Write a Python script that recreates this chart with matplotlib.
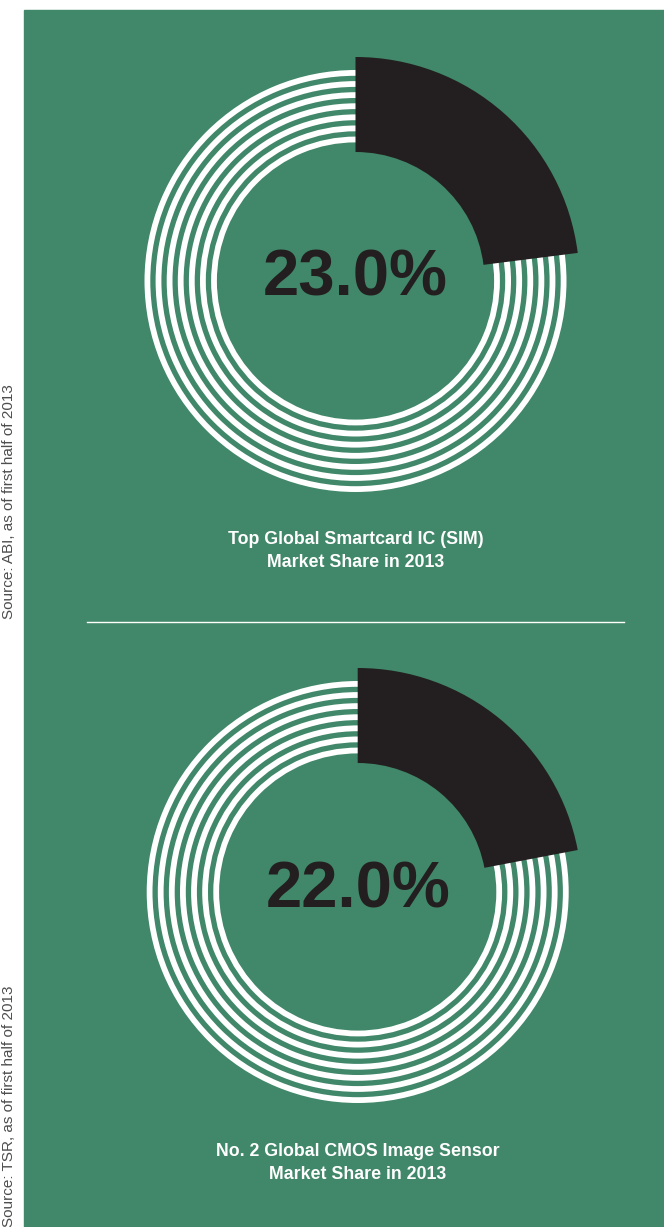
import matplotlib
matplotlib.use("Agg")
import matplotlib.pyplot as plt
from matplotlib.patches import Wedge, Rectangle

# chart data
shares = [23.0, 22.0]
titles = ["Top Global Smartcard IC (SIM)\nMarket Share in 2013",
          "No. 2 Global CMOS Image Sensor\nMarket Share in 2013"]
sources = ["Source: ABI, as of first half of 2013",
           "Source: TSR, as of first half of 2013"]

GREEN = "#418769"
DARK = "#231f20"
W, H = 664, 1227

plt.rcParams['font.family'] = ['Liberation Sans', 'DejaVu Sans']

fig = plt.figure(figsize=(W / 100, H / 100), dpi=100)
ax = fig.add_axes([0, 0, 1, 1])
ax.set_xlim(0, W)
ax.set_ylim(0, H)
ax.axis("off")

# green panel
ax.add_patch(Rectangle((24, 0), W - 24, H - 10, color=GREEN, zorder=0))

# layout for each donut (pixel positions, y measured from top)
centers = [(355.5, 281), (357.7, 892)]
title_y = [551, 1163]
source_y = [502, 1106]

n_rings = 7
ring_outer = 211
ring_w = 5.8
ring_gap = 5.3
wedge_outer = 224
wedge_inner = 129

for share, title, src, (cx, cy_top), ty, sy in zip(shares, titles, sources,
                                                    centers, title_y, source_y):
    cy = H - cy_top
    for i in range(n_rings):
        r = ring_outer - i * (ring_w + ring_gap)
        ax.add_patch(Wedge((cx, cy), r, 0, 360, width=ring_w,
                           facecolor="white", edgecolor="none", zorder=1))
    ax.add_patch(Wedge((cx, cy), wedge_outer, 90 - share * 3.6, 90,
                       width=wedge_outer - wedge_inner,
                       facecolor=DARK, edgecolor="none", zorder=2))
    ax.text(cx, cy + 2, f"{share:.1f}%", ha="center", va="center",
            fontsize=47, fontweight="bold", color=DARK, zorder=3)
    ax.text(cx, H - ty, title, ha="center", va="center", fontsize=12.8,
            fontweight="bold", color="white", linespacing=1.4, zorder=3)
    ax.text(9, H - sy, src, ha="center", va="center", rotation=90,
            fontsize=11, color="#4d4d4d", zorder=3)

# separator line
ax.plot([87, 624], [H - 622, H - 622], color="white", lw=1, zorder=3)

fig.savefig("out.png", dpi=100, facecolor="white")
